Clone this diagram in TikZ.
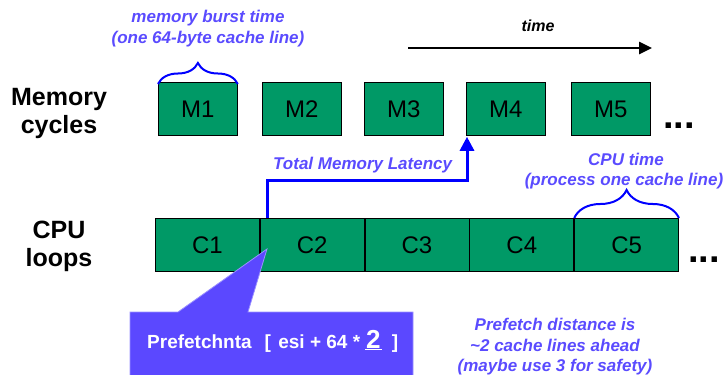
\documentclass[tikz,border=0pt]{standalone}
\usepackage{fontspec}
\setmainfont{Liberation Sans}
\usetikzlibrary{arrows.meta,decorations.pathreplacing}
\definecolor{boxgreen}{HTML}{009966}
\definecolor{notev}{HTML}{5A4BFF}
\definecolor{calloutfill}{HTML}{5B48FF}
\definecolor{calloutedge}{HTML}{9A90FF}
\definecolor{pureblue}{HTML}{0000FF}
\tikzset{
  mbox/.style={draw=black, line width=0.8pt, fill=boxgreen, minimum width=79pt, minimum height=53pt,
    anchor=north west, inner sep=0pt, font=\fontsize{24}{24}\selectfont},
  cbox/.style={mbox, minimum width=104pt},
  note/.style={text=notev, font=\fontsize{17}{17}\selectfont\bfseries\itshape, anchor=base, inner sep=0pt},
  rowlabel/.style={font=\fontsize{25}{25}\selectfont\bfseries, anchor=base, inner sep=0pt},
  dots/.style={font=\fontsize{38}{38}\selectfont\bfseries, anchor=base west, inner sep=0pt},
  curly/.style={draw=pureblue, line width=2pt, decorate},
  timearrow/.style={draw=black, line width=2.5pt, -{Triangle[length=13pt,width=12pt]}},
  latency/.style={draw=pureblue, line width=3pt, -{Triangle[length=14pt,width=14pt]}},
}
\begin{document}
\begin{tikzpicture}[x=1pt,y=-1pt]
\useasboundingbox (0,0) rectangle (726,375);
% row labels
\node[rowlabel] (lm1) at (59,105) {Memory};
\node[rowlabel] (lm2) at (59,133) {cycles};
\node[rowlabel] (lc1) at (59,238) {CPU};
\node[rowlabel] (lc2) at (59,266) {loops};
% memory boxes
\node[mbox] (m1) at (158,82) {M1};
\node[mbox] (m2) at (262,82) {M2};
\node[mbox] (m3) at (364,82) {M3};
\node[mbox] (m4) at (466,82) {M4};
\node[mbox] (m5) at (571,82) {M5};
\node[dots] (md) at (663,128) {...};
% cpu boxes
\node[cbox] (c1) at (155,218) {C1};
\node[cbox] (c2) at (c1.north east) {C2};
\node[cbox] (c3) at (c2.north east) {C3};
\node[cbox] (c4) at (c3.north east) {C4};
\node[cbox] (c5) at (c4.north east) {C5};
\node[dots] (cd) at (688,262) {...};
% time arrow
\coordinate (t0) at (408,48);
\coordinate (t1) at (652,48);
\draw[timearrow] (t0) -- (t1);
\node[anchor=base, inner sep=0pt, font=\fontsize{16}{16}\selectfont\bfseries\itshape] (tl) at (538,31) {time};
% memory burst brace
\draw[curly, decoration={brace, amplitude=21pt}] ([yshift=-2pt]m1.north west) -- ([yshift=-2pt]m1.north east);
\node[note] (mb1) at (208,22) {memory burst time};
\node[note] (mb2) at (208,43) {(one 64-byte cache line)};
% cpu time brace
\draw[curly, decoration={brace, amplitude=28pt}] (c5.north west) -- (c5.north east);
\node[note] (ct1) at (626,165) {CPU time};
\node[note] (ct2) at (624,185) {(process one cache line)};
% total memory latency
\draw[latency] ([xshift=8pt]c2.north west) |- (467,180) -- ([xshift=1pt,yshift=-1pt]m4.south west);
\node[note, anchor=base west] (tml) at (273,169) {Total Memory Latency};
% callout
\coordinate (tip) at (267,249);
\draw[fill=calloutfill, draw=calloutedge, line width=0.8pt]
  (130,312) -- (178,312) -- (tip) -- (248,312) -- (413,312) -- (413,377) -- (130,377) -- cycle;
\node[anchor=base west, inner sep=0pt, text=white, font=\fontsize{19}{19}\selectfont\bfseries] (pf) at (147,348)
  {Prefetchnta\hspace{13pt}[\hspace{2pt} esi + 64 *\hspace{5pt}{\fontsize{26}{26}\selectfont\underline{\kern1pt 2\kern1pt}}\hspace{5pt} ]};
% prefetch distance note
\node[note] (pd1) at (555,330) {Prefetch distance is};
\node[note] (pd2) at (555,351) {\textasciitilde2 cache lines ahead};
\node[note] (pd3) at (555,371) {(maybe use 3 for safety)};
\end{tikzpicture}
\end{document}
